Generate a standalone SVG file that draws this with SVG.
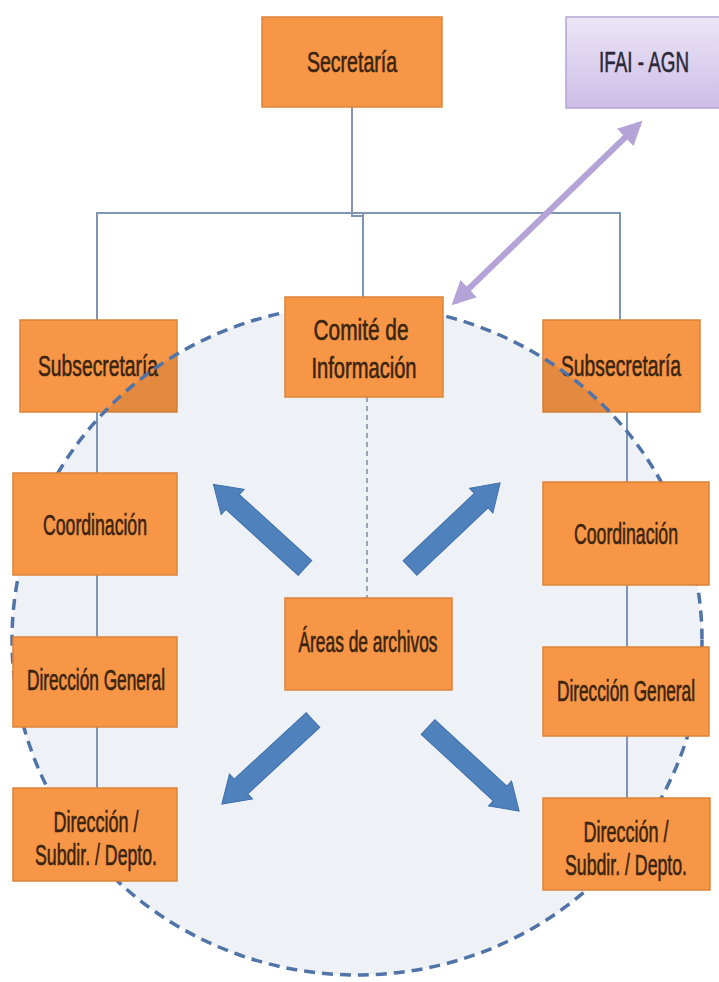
<svg xmlns="http://www.w3.org/2000/svg" width="719" height="982" viewBox="0 0 719 982">
  <style>
    .box { fill: #f79646; stroke: #dd8439; stroke-width: 1.5; }
    .lbl { font-family: "Liberation Sans Narrow", "Liberation Sans", Arial, sans-serif; font-size: 22px; fill: #3a2410; stroke: #3a2410; stroke-width: 0.45; text-anchor: middle; }
    .sm { font-size: 20px; }
    .conn { fill: none; stroke: #8094b4; stroke-width: 2; }
    .barrow { fill: #4f81bd; stroke: #3f70aa; stroke-width: 1; }
  </style>
  <defs>
    <linearGradient id="lav" x1="0" y1="0" x2="0" y2="1">
      <stop offset="0" stop-color="#ece6f6"/>
      <stop offset="1" stop-color="#cdbde8"/>
    </linearGradient>
    <marker id="lavHead" viewBox="0 0 10 10" markerWidth="4" markerHeight="4" refX="8" refY="5" orient="auto-start-reverse" markerUnits="strokeWidth">
      <path d="M0,0 L10,5 L0,10 Z" fill="#b3a3d6"/>
    </marker>
    <path id="blockArrow" d="M0,-10 L98,-10 L98,-17 L124,0 L98,17 L98,10 L0,10 Z"/>
    <clipPath id="subClip">
      <rect x="20" y="320" width="157" height="92"/>
      <rect x="543" y="320" width="157" height="92"/>
    </clipPath>
  </defs>

  <rect x="0" y="0" width="719" height="982" fill="#ffffff"/>

  <!-- dashed region background -->
  <ellipse id="region-fill" cx="357" cy="640" rx="345" ry="335" fill="#eef1f6"/>

  <g id="connectors">
    <path class="conn" d="M352,107 V216 H363"/>
    <path class="conn" d="M363,213 V297"/>
    <path class="conn" d="M97,320 V213 H620 V320"/>
    <path class="conn" d="M97,412 V788"/>
    <path class="conn" d="M627,412 V798"/>
    <path d="M367,397 V598" fill="none" stroke="#7f8aa0" stroke-width="1.5" stroke-dasharray="5 4"/>
    <line x1="455" y1="302" x2="639" y2="124" stroke="#b3a3d6" stroke-width="6" marker-start="url(#lavHead)" marker-end="url(#lavHead)"/>
    <use href="#blockArrow" class="barrow" transform="translate(305,568) rotate(222.4)"/>
    <use href="#blockArrow" class="barrow" transform="translate(410,568) rotate(-43.4)"/>
    <use href="#blockArrow" class="barrow" transform="translate(313,720) rotate(137.3)"/>
    <use href="#blockArrow" class="barrow" transform="translate(428,727) rotate(42.7)"/>
  </g>

  <g id="subsecretaria-left">
    <rect class="box" x="20" y="320" width="157" height="92"/>
  </g>
  <g id="subsecretaria-right">
    <rect class="box" x="543" y="320" width="157" height="92"/>
  </g>
  <ellipse cx="357" cy="640" rx="345" ry="335" fill="#000000" fill-opacity="0.08" clip-path="url(#subClip)"/>
  <text class="lbl" transform="translate(98,376) scale(1,1.3)" textLength="120" lengthAdjust="spacingAndGlyphs">Subsecretaría</text>
  <text class="lbl" transform="translate(621,376) scale(1,1.3)" textLength="120" lengthAdjust="spacingAndGlyphs">Subsecretaría</text>

  <!-- dashed region outline -->
  <ellipse id="region-outline" cx="357" cy="640" rx="345" ry="335" fill="none" stroke="#5073a8" stroke-width="3.5" stroke-dasharray="11 7"/>

  <g id="secretaria">
    <rect class="box" x="262" y="17" width="180" height="90"/>
    <text class="lbl" transform="translate(352,72) scale(1,1.3)" textLength="90" lengthAdjust="spacingAndGlyphs">Secretaría</text>
  </g>

  <g id="ifai-agn">
    <rect x="566" y="17" width="160" height="91" fill="url(#lav)" stroke="#b4a4d2" stroke-width="1.5"/>
    <text class="lbl" transform="translate(644,72) scale(1,1.3)" textLength="90" lengthAdjust="spacingAndGlyphs" style="fill:#2a2a3a;stroke:#2a2a3a">IFAI - AGN</text>
  </g>

  <g id="comite">
    <rect class="box" x="285" y="297" width="158" height="100"/>
    <text class="lbl" transform="translate(361,340) scale(1,1.3)" textLength="95" lengthAdjust="spacingAndGlyphs">Comité de</text>
    <text class="lbl" transform="translate(364,378) scale(1,1.3)" textLength="105" lengthAdjust="spacingAndGlyphs">Información</text>
  </g>

  <g id="areas">
    <rect class="box" x="285" y="598" width="167" height="92"/>
    <text class="lbl sm" transform="translate(368,652) scale(1,1.43)" textLength="139" lengthAdjust="spacingAndGlyphs">Áreas de archivos</text>
  </g>

  <g id="coordinacion-left">
    <rect class="box" x="13" y="473" width="164" height="102"/>
    <text class="lbl" transform="translate(95,535) scale(1,1.3)" textLength="104" lengthAdjust="spacingAndGlyphs">Coordinación</text>
  </g>
  <g id="direccion-general-left">
    <rect class="box" x="13" y="637" width="164" height="90"/>
    <text class="lbl sm" transform="translate(96,690) scale(1,1.43)" textLength="138" lengthAdjust="spacingAndGlyphs">Dirección General</text>
  </g>
  <g id="direccion-subdir-left">
    <rect class="box" x="13" y="788" width="164" height="93"/>
    <text class="lbl" transform="translate(96,832) scale(1,1.3)" textLength="85" lengthAdjust="spacingAndGlyphs">Dirección /</text>
    <text class="lbl" transform="translate(96,865) scale(1,1.3)" textLength="122" lengthAdjust="spacingAndGlyphs">Subdir. / Depto.</text>
  </g>

  <g id="coordinacion-right">
    <rect class="box" x="543" y="482" width="166" height="103"/>
    <text class="lbl" transform="translate(626,544) scale(1,1.3)" textLength="104" lengthAdjust="spacingAndGlyphs">Coordinación</text>
  </g>
  <g id="direccion-general-right">
    <rect class="box" x="543" y="647" width="166" height="89"/>
    <text class="lbl sm" transform="translate(626,701) scale(1,1.43)" textLength="138" lengthAdjust="spacingAndGlyphs">Dirección General</text>
  </g>
  <g id="direccion-subdir-right">
    <rect class="box" x="543" y="798" width="167" height="92"/>
    <text class="lbl" transform="translate(626,842) scale(1,1.3)" textLength="85" lengthAdjust="spacingAndGlyphs">Dirección /</text>
    <text class="lbl" transform="translate(626,875) scale(1,1.3)" textLength="122" lengthAdjust="spacingAndGlyphs">Subdir. / Depto.</text>
  </g>
</svg>
